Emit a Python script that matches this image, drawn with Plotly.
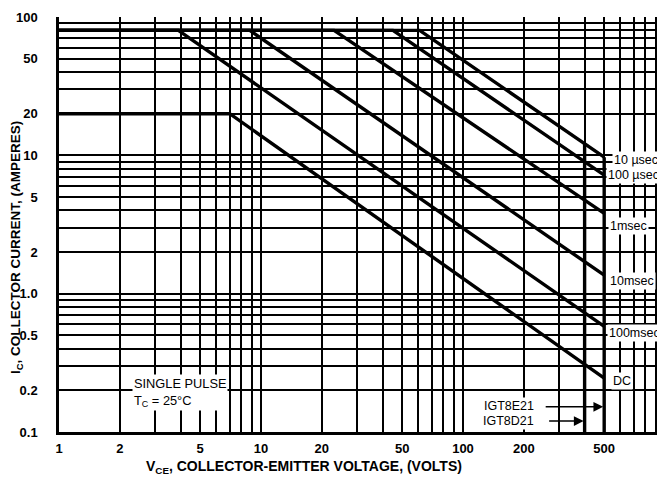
import numpy as np
import plotly.graph_objects as go

# ---- data ----
vce_10us = [1, 61, 500]
ic_10us = [80, 80, 9.7]
vce_100us = [1, 45, 500]
ic_100us = [80, 80, 7.2]
vce_1ms = [1, 23, 500]
ic_1ms = [80, 80, 3.8]
vce_10ms = [1, 8.8, 500]
ic_10ms = [80, 80, 1.36]
vce_100ms = [1, 3.9, 500]
ic_100ms = [80, 80, 0.58]
vce_dc = [1, 7, 500]
ic_dc = [20, 20, 0.245]
vce_d21 = [400, 400]
ic_d21 = [0.1, 12.2]
vce_e21 = [500, 500]
ic_e21 = [0.1, 9.7]

x_labels = {1: "1", 2: "2", 5: "5", 10: "10", 20: "20", 50: "50", 100: "100", 200: "200", 500: "500"}
y_labels = {0.1: "0.1", 0.2: "0.2", 0.5: "0.5", 1: "1.0", 2: "2", 5: "5", 10: "10", 20: "20", 50: "50", 100: "100"}

x_grid = [m * 10 ** d for d in range(3) for m in range(1, 10)] + [1000]
y_grid = [round(m * 10 ** d, 6) for d in (-1, 0, 1) for m in range(1, 10)] + [100]

def lab(d, v):
    for k, t in d.items():
        if abs(k - v) < 1e-9:
            return t
    return ""

FONT = "Liberation Sans"
fig = go.Figure()
line_style = dict(color="black", width=3.4)
for xs, ys, nm in [(vce_10us, ic_10us, "10 µsec"), (vce_100us, ic_100us, "100 µsec"),
                   (vce_1ms, ic_1ms, "1msec"), (vce_10ms, ic_10ms, "10msec"),
                   (vce_100ms, ic_100ms, "100msec"), (vce_dc, ic_dc, "DC"),
                   (vce_d21, ic_d21, "IGT8D21"), (vce_e21, ic_e21, "IGT8E21")]:
    fig.add_trace(go.Scatter(x=xs, y=ys, mode="lines", line=line_style, name=nm,
                             showlegend=False, hoverinfo="skip"))

# page body has an 8px margin; plot area in window pixels: x 59..665, y 17..432
def px(x):
    return (x - 59) / 606.0

def py(y):
    return (432 - y) / 415.0

ann = []
def label(text, x, y, size=12.5, xanchor="center", bg="white", align="center"):
    ann.append(dict(text=text, x=px(x), y=py(y), xref="paper", yref="paper",
                    xanchor=xanchor, yanchor="middle", showarrow=False, align=align,
                    font=dict(family=FONT, size=size, color="black"),
                    bgcolor=bg, borderpad=1))

label("10 µsec", 636, 160)
label("100 µsec", 633, 175)
label("1msec", 628, 226)
label("10msec", 632, 281)
label("100msec", 634, 333)
label("DC", 622, 381)
label("SINGLE PULSE<br>T<sub>C</sub> = 25°C", 132, 392, size=12.8, xanchor="left", align="left")
label("IGT8E21", 536, 406, size=12.5, xanchor="right")
label("IGT8D21", 536, 421, size=12.5, xanchor="right")

# arrows pointing to the voltage limits
for xv, yv, alen in [(500, 0.152, 60), (400, 0.12, 37)]:
    ann.append(dict(text="", x=np.log10(xv), y=np.log10(yv), xref="x", yref="y",
                    ax=-alen, ay=0, axref="pixel", ayref="pixel", showarrow=True,
                    arrowhead=2, arrowsize=1.3, arrowwidth=1.5, arrowcolor="black",
                    standoff=1))

# axis titles
ann.append(dict(text="<b>V<sub>CE</sub>, COLLECTOR-EMITTER VOLTAGE, (VOLTS)</b>",
                x=px(304), y=py(467), xref="paper", yref="paper", showarrow=False,
                xanchor="center", yanchor="middle", font=dict(family=FONT, size=14, color="black")))
ann.append(dict(text="<b>I<sub>C</sub>, COLLECTOR CURRENT, (AMPERES)</b>",
                x=px(16), y=py(248), xref="paper", yref="paper", showarrow=False,
                textangle=-90, xanchor="center", yanchor="middle",
                font=dict(family=FONT, size=13.5, color="black")))

fig.update_layout(
    width=657, height=470,
    margin=dict(l=51, r=0, t=9, b=46, autoexpand=False),
    paper_bgcolor="white", plot_bgcolor="white",
    annotations=ann,
    xaxis=dict(type="log", range=[0, 3], tickmode="array", tickvals=x_grid,
               ticktext=[lab(x_labels, v) for v in x_grid], automargin=False,
               tickangle=0,
               showgrid=True, gridcolor="black", gridwidth=1.8,
               showline=True, linecolor="black", linewidth=2.5,
               ticks="", zeroline=False, ticklabelstandoff=3,
               tickfont=dict(family=FONT, size=13, color="black", weight="bold")),
    yaxis=dict(type="log", range=[-1, 2], tickmode="array", tickvals=y_grid,
               ticktext=[lab(y_labels, v) for v in y_grid], automargin=False,
               showgrid=True, gridcolor="black", gridwidth=1.8,
               showline=True, linecolor="black", linewidth=2.5,
               ticks="", zeroline=False, ticklabelstandoff=16,
               tickfont=dict(family=FONT, size=13, color="black", weight="bold")),
)

fig.write_html("out.html")
